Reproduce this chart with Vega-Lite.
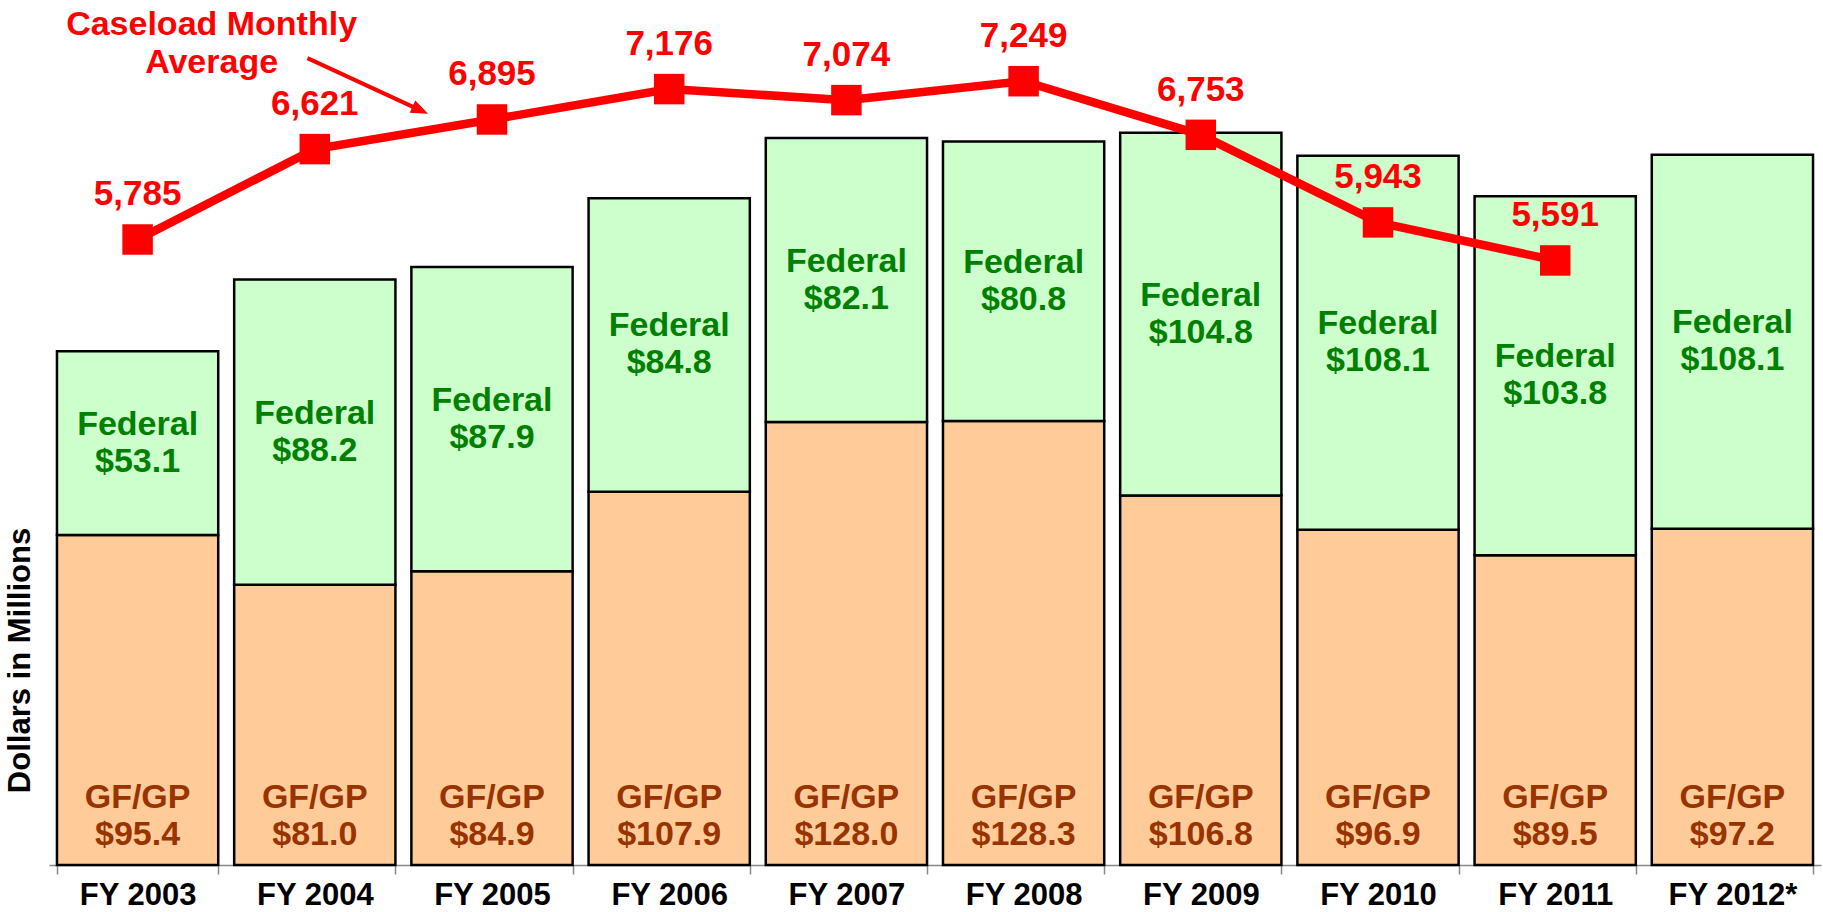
{
  "$schema": "https://vega.github.io/schema/vega-lite/v6.json",
  "width": 1772,
  "height": 865,
  "autosize": {"type": "none"},
  "padding": {"left": 49, "top": 0, "right": 2, "bottom": 47},
  "background": "white",
  "config": {
    "view": {"stroke": null},
    "font": "Liberation Sans",
    "text": {"font": "Liberation Sans", "fontWeight": "bold"},
    "axisY": {
      "labels": false, "ticks": false, "domain": false, "grid": false,
      "titleFont": "Liberation Sans", "titleFontSize": 31, "titleFontWeight": "bold", "titleColor": "#000000",
      "titleX": -29, "titleY": 660, "titleAngle": -90, "titleAlign": "center", "titleBaseline": "middle"
    },
    "axisX": {
      "domainColor": "#888888", "domainWidth": 1.5, "tickColor": "#888888", "tickWidth": 1.5, "tickSize": 9,
      "tickBand": "extent", "labelFont": "Liberation Sans", "labelFontSize": 31, "labelFontWeight": "bold",
      "labelColor": "#000000", "labelPadding": 6, "labelAngle": 0, "grid": false, "title": null
    }
  },
  "datasets": {
    "budget": [
      {"year": "FY 2003", "source": "GF/GP", "amount": 95.4},
      {"year": "FY 2003", "source": "Federal", "amount": 53.1},
      {"year": "FY 2004", "source": "GF/GP", "amount": 81.0},
      {"year": "FY 2004", "source": "Federal", "amount": 88.2},
      {"year": "FY 2005", "source": "GF/GP", "amount": 84.9},
      {"year": "FY 2005", "source": "Federal", "amount": 87.9},
      {"year": "FY 2006", "source": "GF/GP", "amount": 107.9},
      {"year": "FY 2006", "source": "Federal", "amount": 84.8},
      {"year": "FY 2007", "source": "GF/GP", "amount": 128.0},
      {"year": "FY 2007", "source": "Federal", "amount": 82.1},
      {"year": "FY 2008", "source": "GF/GP", "amount": 128.3},
      {"year": "FY 2008", "source": "Federal", "amount": 80.8},
      {"year": "FY 2009", "source": "GF/GP", "amount": 106.8},
      {"year": "FY 2009", "source": "Federal", "amount": 104.8},
      {"year": "FY 2010", "source": "GF/GP", "amount": 96.9},
      {"year": "FY 2010", "source": "Federal", "amount": 108.1},
      {"year": "FY 2011", "source": "GF/GP", "amount": 89.5},
      {"year": "FY 2011", "source": "Federal", "amount": 103.8},
      {"year": "FY 2012*", "source": "GF/GP", "amount": 97.2},
      {"year": "FY 2012*", "source": "Federal", "amount": 108.1}
    ],
    "caseload": [
      {"year": "FY 2003", "caseload": 5785},
      {"year": "FY 2004", "caseload": 6621},
      {"year": "FY 2005", "caseload": 6895},
      {"year": "FY 2006", "caseload": 7176},
      {"year": "FY 2007", "caseload": 7074},
      {"year": "FY 2008", "caseload": 7249},
      {"year": "FY 2009", "caseload": 6753},
      {"year": "FY 2010", "caseload": 5943},
      {"year": "FY 2011", "caseload": 5591}
    ]
  },
  "encoding": {
    "x": {"field": "year", "type": "nominal", "scale": {"paddingInner": 0.09, "paddingOuter": 0.045}}
  },
  "layer": [
    {
      "data": {"name": "budget"},
      "transform": [
        {"stack": "amount", "groupby": ["year"], "sort": [{"field": "source", "order": "descending"}], "as": ["y0", "y1"]},
        {"calculate": "(datum.y0 + datum.y1) / 2", "as": "mid"}
      ],
      "layer": [
        {
          "mark": {"type": "bar", "stroke": "#000000", "strokeWidth": 2.5},
          "encoding": {
            "y": {"field": "y1", "type": "quantitative", "scale": {"domain": [0, 250], "nice": false}, "title": "Dollars in Millions"},
            "y2": {"field": "y0"},
            "color": {"field": "source", "type": "nominal", "scale": {"domain": ["GF/GP", "Federal"], "range": ["#FFCC99", "#CCFFCC"]}, "legend": null}
          }
        },
        {
          "transform": [{"filter": "datum.source === 'Federal'"}],
          "mark": {"type": "text", "fontSize": 34, "color": "#008000", "baseline": "middle", "dy": -18.5, "text": "Federal"},
          "encoding": {"y": {"field": "mid", "type": "quantitative", "title": "Dollars in Millions"}}
        },
        {
          "transform": [{"filter": "datum.source === 'Federal'"}],
          "mark": {"type": "text", "fontSize": 34, "color": "#008000", "baseline": "middle", "dy": 18.5},
          "encoding": {
            "y": {"field": "mid", "type": "quantitative", "title": "Dollars in Millions"},
            "text": {"field": "amount", "type": "quantitative", "format": "$.1f"}
          }
        },
        {
          "transform": [{"filter": "datum.source === 'GF/GP'"}],
          "mark": {"type": "text", "fontSize": 34, "color": "#993300", "baseline": "middle", "dy": -67, "text": "GF/GP"},
          "encoding": {"y": {"datum": 0, "type": "quantitative", "title": "Dollars in Millions"}}
        },
        {
          "transform": [{"filter": "datum.source === 'GF/GP'"}],
          "mark": {"type": "text", "fontSize": 34, "color": "#993300", "baseline": "middle", "dy": -30},
          "encoding": {
            "y": {"datum": 0, "type": "quantitative", "title": "Dollars in Millions"},
            "text": {"field": "amount", "type": "quantitative", "format": "$.1f"}
          }
        }
      ]
    },
    {
      "data": {"name": "caseload"},
      "layer": [
        {
          "mark": {"type": "line", "color": "#FF0000", "strokeWidth": 8.5},
          "encoding": {
            "y": {"field": "caseload", "type": "quantitative", "scale": {"domain": [0, 8000], "nice": false}, "axis": null}
          }
        },
        {
          "mark": {"type": "point", "shape": "square", "filled": true, "color": "#FF0000", "size": 930, "opacity": 1},
          "encoding": {
            "y": {"field": "caseload", "type": "quantitative", "axis": null}
          }
        },
        {
          "mark": {"type": "text", "fontSize": 35, "color": "#FF0000", "baseline": "middle", "dy": -45},
          "encoding": {
            "y": {"field": "caseload", "type": "quantitative", "axis": null},
            "text": {"field": "caseload", "type": "quantitative", "format": ",d"}
          }
        },
        {
          "data": {"values": [{}]},
          "mark": {"type": "text", "fontSize": 34, "color": "#FF0000", "baseline": "middle", "align": "center", "lineHeight": 38, "dx": 74, "text": ["Caseload Monthly", "Average"]},
          "encoding": {
            "x": {"datum": "FY 2003", "type": "nominal"},
            "y": {"datum": 7769, "type": "quantitative", "axis": null}
          }
        },
        {
          "data": {"values": [{}]},
          "mark": {"type": "point", "filled": true, "color": "#FF0000", "opacity": 1, "size": 17689, "angle": 24.8, "xOffset": 53,
                   "shape": "M -1 -0.03 L 0.74 -0.03 L 0.74 -0.1 L 1 0 L 0.74 0.1 L 0.74 0.03 L -1 0.03 Z"},
          "encoding": {
            "x": {"datum": "FY 2004", "type": "nominal"},
            "y": {"datum": 7205, "type": "quantitative", "axis": null}
          }
        }
      ]
    }
  ],
  "resolve": {"scale": {"y": "independent"}}
}
